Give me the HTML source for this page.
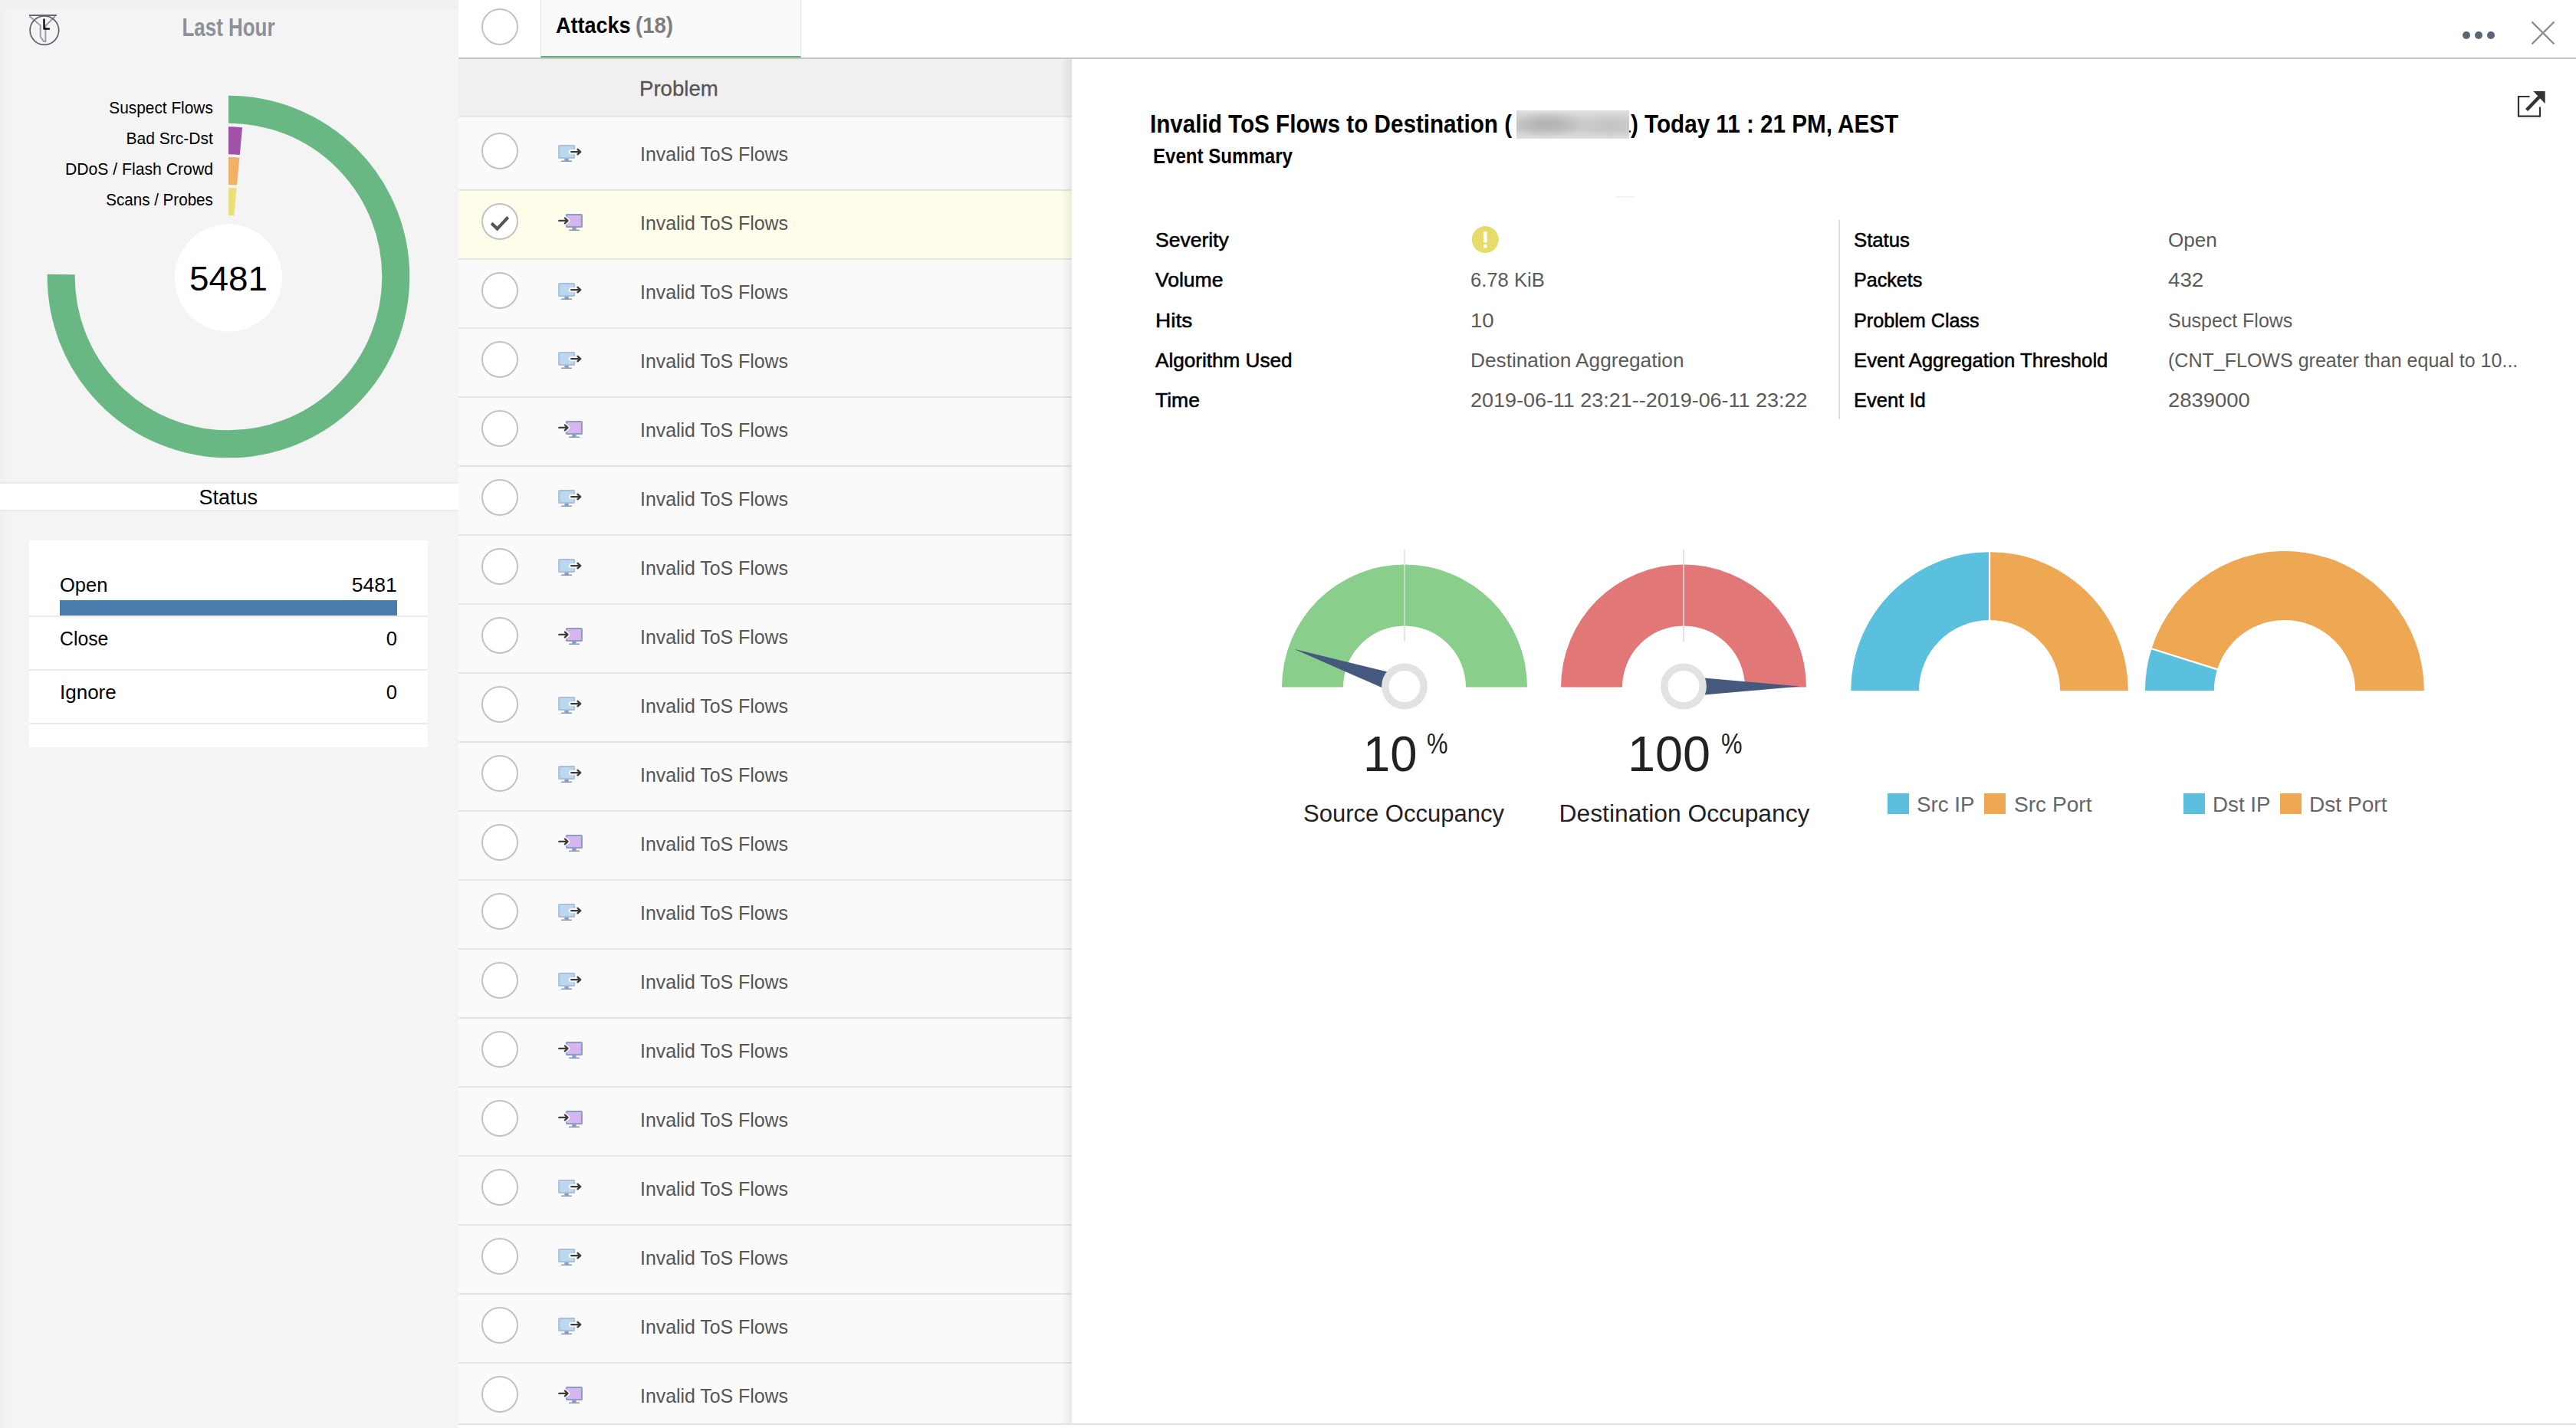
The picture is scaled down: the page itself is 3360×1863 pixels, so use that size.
<!DOCTYPE html>
<html><head><meta charset="utf-8"><title>Attacks</title>
<style>
html,body{margin:0;padding:0;}
body{width:3360px;height:1863px;position:relative;overflow:hidden;background:#fff;font-family:"Liberation Sans",sans-serif;}
.t{position:absolute;white-space:nowrap;line-height:1;}
.abs{position:absolute;}
.sb{-webkit-text-stroke:0.55px #000;}
.row{position:absolute;left:598px;width:800px;height:88px;background:#fafafa;border-bottom:2px solid #e6e6e6;}
.ck{position:absolute;left:628px;width:44px;height:44px;border:2px solid #c2c2c2;border-radius:50%;background:#fff;}
</style></head><body>


<div class="abs" style="left:0;top:0;width:598px;height:1863px;background:#f4f4f4;"></div>
<div class="abs" style="left:0;top:0;width:598px;height:13px;background:#f1f1f1;"></div>
<div class="abs" style="left:0;top:13px;width:12px;height:1850px;background:linear-gradient(to right,#f0f0f0,#f4f4f4);"></div>
<svg class="abs" style="left:30px;top:10px" width="60" height="60" viewBox="30 10 60 60">
<path d="M38.6 21.2 L52.7 33.1 V47.8 L56.9 54.1 H59.4 V33.5 L72 21.2" fill="none" stroke="#979ca6" stroke-width="1.9" stroke-linejoin="miter"/>
<rect x="38" y="19" width="36" height="1.9" fill="#596070"/>
<circle cx="57.9" cy="39.6" r="18.8" fill="none" stroke="#5a6272" stroke-width="1.7"/>
<path d="M57.5 24.6 V37.7 H64.9" fill="none" stroke="#000" stroke-width="2.3" stroke-linecap="butt" stroke-linejoin="round"/>
</svg>
<span class="t" id="t1" style="font-size:32.5px;color:#8c9198;top:20.09px;font-weight:bold;left:298.30px;transform:translateX(-50%) scaleX(0.7977);">Last Hour</span>
<svg class="abs" style="left:0;top:100px" width="598" height="520" viewBox="0 100 598 520">
<path d="M298.00 142.70 A218.3 218.3 0 1 1 79.72 357.95" fill="none" stroke="#69b884" stroke-width="36"/>
<path d="M298.00 183.30 A177.7 177.7 0 0 1 314.41 184.06" fill="none" stroke="#a052a6" stroke-width="36"/>
<path d="M298.00 223.00 A138 138 0 0 1 310.75 223.59" fill="none" stroke="#f0b067" stroke-width="36"/>
<path d="M298.00 263.00 A98 98 0 0 1 307.05 263.42" fill="none" stroke="#e8e078" stroke-width="36"/>
<circle cx="298" cy="362.5" r="70" fill="#fff"/>
</svg>
<span class="t" id="t2" style="font-size:21.5px;color:#000;top:130.80px;right:3082.30px;transform-origin:100% 50%;transform:scaleX(0.9692);">Suspect Flows</span>
<span class="t" id="t3" style="font-size:21.5px;color:#000;top:170.80px;right:3082.30px;transform-origin:100% 50%;transform:scaleX(0.9794);">Bad Src-Dst</span>
<span class="t" id="t4" style="font-size:21.5px;color:#000;top:210.80px;right:3082.30px;transform-origin:100% 50%;transform:scaleX(0.9849);">DDoS / Flash Crowd</span>
<span class="t" id="t5" style="font-size:21.5px;color:#000;top:250.80px;right:3082.30px;transform-origin:100% 50%;transform:scaleX(0.9568);">Scans / Probes</span>
<span class="t" id="t6" style="font-size:45px;color:#000;top:340.71px;left:298.00px;transform:translateX(-50%) scaleX(1.0189);">5481</span>
<div class="abs" style="left:0;top:631px;width:598px;height:34px;background:#fff;box-shadow:0 0 4px rgba(0,0,0,0.10);"></div>
<span class="t" id="t7" style="font-size:27px;color:#000;top:635.94px;left:297.70px;transform:translateX(-50%);">Status</span>
<div class="abs" style="left:38px;top:705px;width:520px;height:270px;background:#fff;"></div>
<div class="abs" style="left:38px;top:803.0px;width:520px;height:2px;background:#ebebeb;"></div>
<div class="abs" style="left:38px;top:872.7px;width:520px;height:2px;background:#ebebeb;"></div>
<div class="abs" style="left:38px;top:942.5px;width:520px;height:2px;background:#ebebeb;"></div>
<div class="abs" style="left:78px;top:783px;width:440px;height:20px;background:#4a7dae;"></div>
<span class="t" id="t8" style="font-size:25.5px;color:#000;top:750.71px;left:78.00px;">Open</span>
<span class="t" id="t9" style="font-size:25.5px;color:#000;top:750.71px;right:2842.00px;transform-origin:100% 50%;transform:scaleX(1.0399);">5481</span>
<span class="t" id="t10" style="font-size:25.5px;color:#000;top:820.81px;left:78.00px;transform-origin:0 50%;transform:scaleX(0.9708);">Close</span>
<span class="t" id="t11" style="font-size:25.5px;color:#000;top:820.81px;right:2842.00px;">0</span>
<span class="t" id="t12" style="font-size:25.5px;color:#000;top:890.81px;left:78.00px;transform-origin:0 50%;transform:scaleX(1.0192);">Ignore</span>
<span class="t" id="t13" style="font-size:25.5px;color:#000;top:890.81px;right:2842.00px;">0</span>
<div class="abs" style="left:598px;top:0;width:2762px;height:75px;background:#fff;border-bottom:2px solid #c6c6c6;"></div>
<div class="abs" style="left:705px;top:0;width:338px;height:73px;background:#fafafa;border-left:1px solid #e4e4e4;border-right:1px solid #e4e4e4;border-bottom:2px solid #5cb87a;"></div>
<div class="ck" style="top:10.8px;"></div>
<span class="t" id="t14" style="font-size:29px;color:#000;top:18.75px;font-weight:bold;left:725.30px;transform-origin:0 50%;transform:scaleX(0.9305);">Attacks</span>
<span class="t" id="t15" style="font-size:29px;color:#7d7d7d;top:18.75px;font-weight:bold;left:828.80px;transform-origin:0 50%;transform:scaleX(0.9500);">(18)</span>
<div class="abs" style="left:3212.1px;top:40.8px;width:10px;height:10px;border-radius:50%;background:#5b6478;"></div>
<div class="abs" style="left:3228.2px;top:40.8px;width:10px;height:10px;border-radius:50%;background:#5b6478;"></div>
<div class="abs" style="left:3244.4px;top:40.8px;width:10px;height:10px;border-radius:50%;background:#5b6478;"></div>
<svg class="abs" style="left:3296px;top:22px" width="42" height="42" viewBox="3296 22 42 42"><path d="M3302.5 28.5 L3331.5 57.5 M3331.5 28.5 L3302.5 57.5" stroke="#8a8c90" stroke-width="2.3" fill="none"/></svg>
<div class="abs" style="left:598px;top:77px;width:800px;height:76px;background:#f0f0f0;"></div>
<div class="abs" style="left:598px;top:151px;width:800px;height:1.5px;background:#e7e7e7;"></div>
<span class="t" id="t16" style="font-size:28px;color:#555;top:101.50px;left:834.00px;transform-origin:0 50%;transform:scaleX(0.9850);-webkit-text-stroke:0.3px #555;">Problem</span>
<div class="row" style="top:153px;height:94px;"></div>
<div class="ck" style="top:172.8px;"></div>
<svg class="abs" style="left:727px;top:187.9px;overflow:visible" width="36" height="26" viewBox="0 0 36 26"><rect x="2.1" y="2" width="20" height="16" rx="0.6" fill="#bcd8f0" stroke="#a9c0dc" stroke-width="2"/>
  <rect x="9.4" y="19" width="5.4" height="2.8" fill="#8a9aba"/>
  <rect x="5" y="21.5" width="14" height="1.6" rx="0.6" fill="#8494b6"/>
  <path d="M18 10.1 H27" fill="none" stroke="#f4f9fd" stroke-width="6.4" stroke-linecap="round"/>
  <path d="M26.5 6.85 L30.2 10.1 L26.5 13.35" fill="none" stroke="#fafafa" stroke-width="4.4" stroke-linecap="round" stroke-linejoin="round"/>
  <path d="M18.2 10.1 H29.8 M26.5 6.85 L30.15 10.1 L26.5 13.35" fill="none" stroke="#3c3c3c" stroke-width="2.4" stroke-linecap="round" stroke-linejoin="round"/></svg>
<span class="t" id="t17" style="font-size:26.5px;color:#555;top:188.47px;left:834.50px;transform-origin:0 50%;transform:scaleX(0.9382);">Invalid ToS Flows</span>
<div class="row" style="top:249px;background:#fdfde9;"></div>
<div class="ck" style="top:264.7px;"></div>
<svg class="abs" style="left:629.7px;top:265.7px" width="46" height="46" viewBox="0 0 46 46"><path d="M11.2 25.3 L18.6 32.6 L32.6 17.4" fill="none" stroke="#555" stroke-width="4.2"/></svg>
<svg class="abs" style="left:727px;top:277.9px;overflow:visible" width="36" height="26" viewBox="0 0 36 26"><rect x="11.9" y="2" width="20" height="16" rx="0.6" fill="#d5b6ef" stroke="#8f9cc2" stroke-width="2"/>
  <rect x="19.3" y="19" width="5.2" height="2.8" fill="#8a9aba"/>
  <rect x="15" y="21.5" width="14" height="1.6" rx="0.6" fill="#8494b6"/>
  <path d="M2 9.9 H11 M9.9 6.5 L13.4 9.9 L9.9 13.3" fill="none" stroke="#fbfafd" stroke-width="5.6" stroke-linecap="round" stroke-linejoin="round"/>
  <path d="M2.4 9.9 H13.2 M9.9 6.5 L13.45 9.9 L9.9 13.3" fill="none" stroke="#3c3c3c" stroke-width="2.4" stroke-linecap="round" stroke-linejoin="round"/></svg>
<span class="t" id="t18" style="font-size:26.5px;color:#555;top:278.47px;left:834.50px;transform-origin:0 50%;transform:scaleX(0.9382);">Invalid ToS Flows</span>
<div class="row" style="top:339px;"></div>
<div class="ck" style="top:354.7px;"></div>
<svg class="abs" style="left:727px;top:367.9px;overflow:visible" width="36" height="26" viewBox="0 0 36 26"><rect x="2.1" y="2" width="20" height="16" rx="0.6" fill="#bcd8f0" stroke="#a9c0dc" stroke-width="2"/>
  <rect x="9.4" y="19" width="5.4" height="2.8" fill="#8a9aba"/>
  <rect x="5" y="21.5" width="14" height="1.6" rx="0.6" fill="#8494b6"/>
  <path d="M18 10.1 H27" fill="none" stroke="#f4f9fd" stroke-width="6.4" stroke-linecap="round"/>
  <path d="M26.5 6.85 L30.2 10.1 L26.5 13.35" fill="none" stroke="#fafafa" stroke-width="4.4" stroke-linecap="round" stroke-linejoin="round"/>
  <path d="M18.2 10.1 H29.8 M26.5 6.85 L30.15 10.1 L26.5 13.35" fill="none" stroke="#3c3c3c" stroke-width="2.4" stroke-linecap="round" stroke-linejoin="round"/></svg>
<span class="t" id="t19" style="font-size:26.5px;color:#555;top:368.47px;left:834.50px;transform-origin:0 50%;transform:scaleX(0.9382);">Invalid ToS Flows</span>
<div class="row" style="top:429px;"></div>
<div class="ck" style="top:444.7px;"></div>
<svg class="abs" style="left:727px;top:457.9px;overflow:visible" width="36" height="26" viewBox="0 0 36 26"><rect x="2.1" y="2" width="20" height="16" rx="0.6" fill="#bcd8f0" stroke="#a9c0dc" stroke-width="2"/>
  <rect x="9.4" y="19" width="5.4" height="2.8" fill="#8a9aba"/>
  <rect x="5" y="21.5" width="14" height="1.6" rx="0.6" fill="#8494b6"/>
  <path d="M18 10.1 H27" fill="none" stroke="#f4f9fd" stroke-width="6.4" stroke-linecap="round"/>
  <path d="M26.5 6.85 L30.2 10.1 L26.5 13.35" fill="none" stroke="#fafafa" stroke-width="4.4" stroke-linecap="round" stroke-linejoin="round"/>
  <path d="M18.2 10.1 H29.8 M26.5 6.85 L30.15 10.1 L26.5 13.35" fill="none" stroke="#3c3c3c" stroke-width="2.4" stroke-linecap="round" stroke-linejoin="round"/></svg>
<span class="t" id="t20" style="font-size:26.5px;color:#555;top:458.47px;left:834.50px;transform-origin:0 50%;transform:scaleX(0.9382);">Invalid ToS Flows</span>
<div class="row" style="top:519px;"></div>
<div class="ck" style="top:534.7px;"></div>
<svg class="abs" style="left:727px;top:547.9px;overflow:visible" width="36" height="26" viewBox="0 0 36 26"><rect x="11.9" y="2" width="20" height="16" rx="0.6" fill="#d5b6ef" stroke="#8f9cc2" stroke-width="2"/>
  <rect x="19.3" y="19" width="5.2" height="2.8" fill="#8a9aba"/>
  <rect x="15" y="21.5" width="14" height="1.6" rx="0.6" fill="#8494b6"/>
  <path d="M2 9.9 H11 M9.9 6.5 L13.4 9.9 L9.9 13.3" fill="none" stroke="#fbfafd" stroke-width="5.6" stroke-linecap="round" stroke-linejoin="round"/>
  <path d="M2.4 9.9 H13.2 M9.9 6.5 L13.45 9.9 L9.9 13.3" fill="none" stroke="#3c3c3c" stroke-width="2.4" stroke-linecap="round" stroke-linejoin="round"/></svg>
<span class="t" id="t21" style="font-size:26.5px;color:#555;top:548.47px;left:834.50px;transform-origin:0 50%;transform:scaleX(0.9382);">Invalid ToS Flows</span>
<div class="row" style="top:609px;"></div>
<div class="ck" style="top:624.7px;"></div>
<svg class="abs" style="left:727px;top:637.9px;overflow:visible" width="36" height="26" viewBox="0 0 36 26"><rect x="2.1" y="2" width="20" height="16" rx="0.6" fill="#bcd8f0" stroke="#a9c0dc" stroke-width="2"/>
  <rect x="9.4" y="19" width="5.4" height="2.8" fill="#8a9aba"/>
  <rect x="5" y="21.5" width="14" height="1.6" rx="0.6" fill="#8494b6"/>
  <path d="M18 10.1 H27" fill="none" stroke="#f4f9fd" stroke-width="6.4" stroke-linecap="round"/>
  <path d="M26.5 6.85 L30.2 10.1 L26.5 13.35" fill="none" stroke="#fafafa" stroke-width="4.4" stroke-linecap="round" stroke-linejoin="round"/>
  <path d="M18.2 10.1 H29.8 M26.5 6.85 L30.15 10.1 L26.5 13.35" fill="none" stroke="#3c3c3c" stroke-width="2.4" stroke-linecap="round" stroke-linejoin="round"/></svg>
<span class="t" id="t22" style="font-size:26.5px;color:#555;top:638.47px;left:834.50px;transform-origin:0 50%;transform:scaleX(0.9382);">Invalid ToS Flows</span>
<div class="row" style="top:699px;"></div>
<div class="ck" style="top:714.7px;"></div>
<svg class="abs" style="left:727px;top:727.9px;overflow:visible" width="36" height="26" viewBox="0 0 36 26"><rect x="2.1" y="2" width="20" height="16" rx="0.6" fill="#bcd8f0" stroke="#a9c0dc" stroke-width="2"/>
  <rect x="9.4" y="19" width="5.4" height="2.8" fill="#8a9aba"/>
  <rect x="5" y="21.5" width="14" height="1.6" rx="0.6" fill="#8494b6"/>
  <path d="M18 10.1 H27" fill="none" stroke="#f4f9fd" stroke-width="6.4" stroke-linecap="round"/>
  <path d="M26.5 6.85 L30.2 10.1 L26.5 13.35" fill="none" stroke="#fafafa" stroke-width="4.4" stroke-linecap="round" stroke-linejoin="round"/>
  <path d="M18.2 10.1 H29.8 M26.5 6.85 L30.15 10.1 L26.5 13.35" fill="none" stroke="#3c3c3c" stroke-width="2.4" stroke-linecap="round" stroke-linejoin="round"/></svg>
<span class="t" id="t23" style="font-size:26.5px;color:#555;top:728.47px;left:834.50px;transform-origin:0 50%;transform:scaleX(0.9382);">Invalid ToS Flows</span>
<div class="row" style="top:789px;"></div>
<div class="ck" style="top:804.7px;"></div>
<svg class="abs" style="left:727px;top:817.9px;overflow:visible" width="36" height="26" viewBox="0 0 36 26"><rect x="11.9" y="2" width="20" height="16" rx="0.6" fill="#d5b6ef" stroke="#8f9cc2" stroke-width="2"/>
  <rect x="19.3" y="19" width="5.2" height="2.8" fill="#8a9aba"/>
  <rect x="15" y="21.5" width="14" height="1.6" rx="0.6" fill="#8494b6"/>
  <path d="M2 9.9 H11 M9.9 6.5 L13.4 9.9 L9.9 13.3" fill="none" stroke="#fbfafd" stroke-width="5.6" stroke-linecap="round" stroke-linejoin="round"/>
  <path d="M2.4 9.9 H13.2 M9.9 6.5 L13.45 9.9 L9.9 13.3" fill="none" stroke="#3c3c3c" stroke-width="2.4" stroke-linecap="round" stroke-linejoin="round"/></svg>
<span class="t" id="t24" style="font-size:26.5px;color:#555;top:818.47px;left:834.50px;transform-origin:0 50%;transform:scaleX(0.9382);">Invalid ToS Flows</span>
<div class="row" style="top:879px;"></div>
<div class="ck" style="top:894.7px;"></div>
<svg class="abs" style="left:727px;top:907.9px;overflow:visible" width="36" height="26" viewBox="0 0 36 26"><rect x="2.1" y="2" width="20" height="16" rx="0.6" fill="#bcd8f0" stroke="#a9c0dc" stroke-width="2"/>
  <rect x="9.4" y="19" width="5.4" height="2.8" fill="#8a9aba"/>
  <rect x="5" y="21.5" width="14" height="1.6" rx="0.6" fill="#8494b6"/>
  <path d="M18 10.1 H27" fill="none" stroke="#f4f9fd" stroke-width="6.4" stroke-linecap="round"/>
  <path d="M26.5 6.85 L30.2 10.1 L26.5 13.35" fill="none" stroke="#fafafa" stroke-width="4.4" stroke-linecap="round" stroke-linejoin="round"/>
  <path d="M18.2 10.1 H29.8 M26.5 6.85 L30.15 10.1 L26.5 13.35" fill="none" stroke="#3c3c3c" stroke-width="2.4" stroke-linecap="round" stroke-linejoin="round"/></svg>
<span class="t" id="t25" style="font-size:26.5px;color:#555;top:908.47px;left:834.50px;transform-origin:0 50%;transform:scaleX(0.9382);">Invalid ToS Flows</span>
<div class="row" style="top:969px;"></div>
<div class="ck" style="top:984.7px;"></div>
<svg class="abs" style="left:727px;top:997.9px;overflow:visible" width="36" height="26" viewBox="0 0 36 26"><rect x="2.1" y="2" width="20" height="16" rx="0.6" fill="#bcd8f0" stroke="#a9c0dc" stroke-width="2"/>
  <rect x="9.4" y="19" width="5.4" height="2.8" fill="#8a9aba"/>
  <rect x="5" y="21.5" width="14" height="1.6" rx="0.6" fill="#8494b6"/>
  <path d="M18 10.1 H27" fill="none" stroke="#f4f9fd" stroke-width="6.4" stroke-linecap="round"/>
  <path d="M26.5 6.85 L30.2 10.1 L26.5 13.35" fill="none" stroke="#fafafa" stroke-width="4.4" stroke-linecap="round" stroke-linejoin="round"/>
  <path d="M18.2 10.1 H29.8 M26.5 6.85 L30.15 10.1 L26.5 13.35" fill="none" stroke="#3c3c3c" stroke-width="2.4" stroke-linecap="round" stroke-linejoin="round"/></svg>
<span class="t" id="t26" style="font-size:26.5px;color:#555;top:998.47px;left:834.50px;transform-origin:0 50%;transform:scaleX(0.9382);">Invalid ToS Flows</span>
<div class="row" style="top:1059px;"></div>
<div class="ck" style="top:1074.7px;"></div>
<svg class="abs" style="left:727px;top:1087.9px;overflow:visible" width="36" height="26" viewBox="0 0 36 26"><rect x="11.9" y="2" width="20" height="16" rx="0.6" fill="#d5b6ef" stroke="#8f9cc2" stroke-width="2"/>
  <rect x="19.3" y="19" width="5.2" height="2.8" fill="#8a9aba"/>
  <rect x="15" y="21.5" width="14" height="1.6" rx="0.6" fill="#8494b6"/>
  <path d="M2 9.9 H11 M9.9 6.5 L13.4 9.9 L9.9 13.3" fill="none" stroke="#fbfafd" stroke-width="5.6" stroke-linecap="round" stroke-linejoin="round"/>
  <path d="M2.4 9.9 H13.2 M9.9 6.5 L13.45 9.9 L9.9 13.3" fill="none" stroke="#3c3c3c" stroke-width="2.4" stroke-linecap="round" stroke-linejoin="round"/></svg>
<span class="t" id="t27" style="font-size:26.5px;color:#555;top:1088.47px;left:834.50px;transform-origin:0 50%;transform:scaleX(0.9382);">Invalid ToS Flows</span>
<div class="row" style="top:1149px;"></div>
<div class="ck" style="top:1164.7px;"></div>
<svg class="abs" style="left:727px;top:1177.9px;overflow:visible" width="36" height="26" viewBox="0 0 36 26"><rect x="2.1" y="2" width="20" height="16" rx="0.6" fill="#bcd8f0" stroke="#a9c0dc" stroke-width="2"/>
  <rect x="9.4" y="19" width="5.4" height="2.8" fill="#8a9aba"/>
  <rect x="5" y="21.5" width="14" height="1.6" rx="0.6" fill="#8494b6"/>
  <path d="M18 10.1 H27" fill="none" stroke="#f4f9fd" stroke-width="6.4" stroke-linecap="round"/>
  <path d="M26.5 6.85 L30.2 10.1 L26.5 13.35" fill="none" stroke="#fafafa" stroke-width="4.4" stroke-linecap="round" stroke-linejoin="round"/>
  <path d="M18.2 10.1 H29.8 M26.5 6.85 L30.15 10.1 L26.5 13.35" fill="none" stroke="#3c3c3c" stroke-width="2.4" stroke-linecap="round" stroke-linejoin="round"/></svg>
<span class="t" id="t28" style="font-size:26.5px;color:#555;top:1178.47px;left:834.50px;transform-origin:0 50%;transform:scaleX(0.9382);">Invalid ToS Flows</span>
<div class="row" style="top:1239px;"></div>
<div class="ck" style="top:1254.7px;"></div>
<svg class="abs" style="left:727px;top:1267.9px;overflow:visible" width="36" height="26" viewBox="0 0 36 26"><rect x="2.1" y="2" width="20" height="16" rx="0.6" fill="#bcd8f0" stroke="#a9c0dc" stroke-width="2"/>
  <rect x="9.4" y="19" width="5.4" height="2.8" fill="#8a9aba"/>
  <rect x="5" y="21.5" width="14" height="1.6" rx="0.6" fill="#8494b6"/>
  <path d="M18 10.1 H27" fill="none" stroke="#f4f9fd" stroke-width="6.4" stroke-linecap="round"/>
  <path d="M26.5 6.85 L30.2 10.1 L26.5 13.35" fill="none" stroke="#fafafa" stroke-width="4.4" stroke-linecap="round" stroke-linejoin="round"/>
  <path d="M18.2 10.1 H29.8 M26.5 6.85 L30.15 10.1 L26.5 13.35" fill="none" stroke="#3c3c3c" stroke-width="2.4" stroke-linecap="round" stroke-linejoin="round"/></svg>
<span class="t" id="t29" style="font-size:26.5px;color:#555;top:1268.47px;left:834.50px;transform-origin:0 50%;transform:scaleX(0.9382);">Invalid ToS Flows</span>
<div class="row" style="top:1329px;"></div>
<div class="ck" style="top:1344.7px;"></div>
<svg class="abs" style="left:727px;top:1357.9px;overflow:visible" width="36" height="26" viewBox="0 0 36 26"><rect x="11.9" y="2" width="20" height="16" rx="0.6" fill="#d5b6ef" stroke="#8f9cc2" stroke-width="2"/>
  <rect x="19.3" y="19" width="5.2" height="2.8" fill="#8a9aba"/>
  <rect x="15" y="21.5" width="14" height="1.6" rx="0.6" fill="#8494b6"/>
  <path d="M2 9.9 H11 M9.9 6.5 L13.4 9.9 L9.9 13.3" fill="none" stroke="#fbfafd" stroke-width="5.6" stroke-linecap="round" stroke-linejoin="round"/>
  <path d="M2.4 9.9 H13.2 M9.9 6.5 L13.45 9.9 L9.9 13.3" fill="none" stroke="#3c3c3c" stroke-width="2.4" stroke-linecap="round" stroke-linejoin="round"/></svg>
<span class="t" id="t30" style="font-size:26.5px;color:#555;top:1358.47px;left:834.50px;transform-origin:0 50%;transform:scaleX(0.9382);">Invalid ToS Flows</span>
<div class="row" style="top:1419px;"></div>
<div class="ck" style="top:1434.7px;"></div>
<svg class="abs" style="left:727px;top:1447.9px;overflow:visible" width="36" height="26" viewBox="0 0 36 26"><rect x="11.9" y="2" width="20" height="16" rx="0.6" fill="#d5b6ef" stroke="#8f9cc2" stroke-width="2"/>
  <rect x="19.3" y="19" width="5.2" height="2.8" fill="#8a9aba"/>
  <rect x="15" y="21.5" width="14" height="1.6" rx="0.6" fill="#8494b6"/>
  <path d="M2 9.9 H11 M9.9 6.5 L13.4 9.9 L9.9 13.3" fill="none" stroke="#fbfafd" stroke-width="5.6" stroke-linecap="round" stroke-linejoin="round"/>
  <path d="M2.4 9.9 H13.2 M9.9 6.5 L13.45 9.9 L9.9 13.3" fill="none" stroke="#3c3c3c" stroke-width="2.4" stroke-linecap="round" stroke-linejoin="round"/></svg>
<span class="t" id="t31" style="font-size:26.5px;color:#555;top:1448.47px;left:834.50px;transform-origin:0 50%;transform:scaleX(0.9382);">Invalid ToS Flows</span>
<div class="row" style="top:1509px;"></div>
<div class="ck" style="top:1524.7px;"></div>
<svg class="abs" style="left:727px;top:1537.9px;overflow:visible" width="36" height="26" viewBox="0 0 36 26"><rect x="2.1" y="2" width="20" height="16" rx="0.6" fill="#bcd8f0" stroke="#a9c0dc" stroke-width="2"/>
  <rect x="9.4" y="19" width="5.4" height="2.8" fill="#8a9aba"/>
  <rect x="5" y="21.5" width="14" height="1.6" rx="0.6" fill="#8494b6"/>
  <path d="M18 10.1 H27" fill="none" stroke="#f4f9fd" stroke-width="6.4" stroke-linecap="round"/>
  <path d="M26.5 6.85 L30.2 10.1 L26.5 13.35" fill="none" stroke="#fafafa" stroke-width="4.4" stroke-linecap="round" stroke-linejoin="round"/>
  <path d="M18.2 10.1 H29.8 M26.5 6.85 L30.15 10.1 L26.5 13.35" fill="none" stroke="#3c3c3c" stroke-width="2.4" stroke-linecap="round" stroke-linejoin="round"/></svg>
<span class="t" id="t32" style="font-size:26.5px;color:#555;top:1538.47px;left:834.50px;transform-origin:0 50%;transform:scaleX(0.9382);">Invalid ToS Flows</span>
<div class="row" style="top:1599px;"></div>
<div class="ck" style="top:1614.7px;"></div>
<svg class="abs" style="left:727px;top:1627.9px;overflow:visible" width="36" height="26" viewBox="0 0 36 26"><rect x="2.1" y="2" width="20" height="16" rx="0.6" fill="#bcd8f0" stroke="#a9c0dc" stroke-width="2"/>
  <rect x="9.4" y="19" width="5.4" height="2.8" fill="#8a9aba"/>
  <rect x="5" y="21.5" width="14" height="1.6" rx="0.6" fill="#8494b6"/>
  <path d="M18 10.1 H27" fill="none" stroke="#f4f9fd" stroke-width="6.4" stroke-linecap="round"/>
  <path d="M26.5 6.85 L30.2 10.1 L26.5 13.35" fill="none" stroke="#fafafa" stroke-width="4.4" stroke-linecap="round" stroke-linejoin="round"/>
  <path d="M18.2 10.1 H29.8 M26.5 6.85 L30.15 10.1 L26.5 13.35" fill="none" stroke="#3c3c3c" stroke-width="2.4" stroke-linecap="round" stroke-linejoin="round"/></svg>
<span class="t" id="t33" style="font-size:26.5px;color:#555;top:1628.47px;left:834.50px;transform-origin:0 50%;transform:scaleX(0.9382);">Invalid ToS Flows</span>
<div class="row" style="top:1689px;"></div>
<div class="ck" style="top:1704.7px;"></div>
<svg class="abs" style="left:727px;top:1717.9px;overflow:visible" width="36" height="26" viewBox="0 0 36 26"><rect x="2.1" y="2" width="20" height="16" rx="0.6" fill="#bcd8f0" stroke="#a9c0dc" stroke-width="2"/>
  <rect x="9.4" y="19" width="5.4" height="2.8" fill="#8a9aba"/>
  <rect x="5" y="21.5" width="14" height="1.6" rx="0.6" fill="#8494b6"/>
  <path d="M18 10.1 H27" fill="none" stroke="#f4f9fd" stroke-width="6.4" stroke-linecap="round"/>
  <path d="M26.5 6.85 L30.2 10.1 L26.5 13.35" fill="none" stroke="#fafafa" stroke-width="4.4" stroke-linecap="round" stroke-linejoin="round"/>
  <path d="M18.2 10.1 H29.8 M26.5 6.85 L30.15 10.1 L26.5 13.35" fill="none" stroke="#3c3c3c" stroke-width="2.4" stroke-linecap="round" stroke-linejoin="round"/></svg>
<span class="t" id="t34" style="font-size:26.5px;color:#555;top:1718.47px;left:834.50px;transform-origin:0 50%;transform:scaleX(0.9382);">Invalid ToS Flows</span>
<div class="row" style="top:1779px;height:78px;border-bottom:none;"></div>
<div class="ck" style="top:1794.7px;"></div>
<svg class="abs" style="left:727px;top:1807.9px;overflow:visible" width="36" height="26" viewBox="0 0 36 26"><rect x="11.9" y="2" width="20" height="16" rx="0.6" fill="#d5b6ef" stroke="#8f9cc2" stroke-width="2"/>
  <rect x="19.3" y="19" width="5.2" height="2.8" fill="#8a9aba"/>
  <rect x="15" y="21.5" width="14" height="1.6" rx="0.6" fill="#8494b6"/>
  <path d="M2 9.9 H11 M9.9 6.5 L13.4 9.9 L9.9 13.3" fill="none" stroke="#fbfafd" stroke-width="5.6" stroke-linecap="round" stroke-linejoin="round"/>
  <path d="M2.4 9.9 H13.2 M9.9 6.5 L13.45 9.9 L9.9 13.3" fill="none" stroke="#3c3c3c" stroke-width="2.4" stroke-linecap="round" stroke-linejoin="round"/></svg>
<span class="t" id="t35" style="font-size:26.5px;color:#555;top:1808.47px;left:834.50px;transform-origin:0 50%;transform:scaleX(0.9382);">Invalid ToS Flows</span>
<div class="abs" style="left:1384px;top:77px;width:14px;height:1780px;background:linear-gradient(to right,rgba(0,0,0,0),rgba(0,0,0,0.065));"></div>
<div class="abs" style="left:1398px;top:77px;width:1962px;height:1780px;background:#fff;"></div>
<div class="abs" style="left:598px;top:1857px;width:2762px;height:2px;background:#e2e2e2;"></div>
<div class="abs" style="left:598px;top:1859px;width:2762px;height:4px;background:#fff;"></div>
<span class="t" id="t36" style="font-size:33.5px;color:#000;top:145.14px;font-weight:bold;left:1499.50px;transform-origin:0 50%;transform:scaleX(0.8847);">Invalid ToS Flows to Destination (</span>
<div class="abs" style="left:1978px;top:144px;width:147px;height:37px;background:radial-gradient(ellipse 52px 17px at 40px 18px,#b2b2b2 0%,rgba(178,178,178,0.75) 35%,rgba(178,178,178,0) 100%),radial-gradient(ellipse 40px 16px at 122px 20px,rgba(196,196,196,1) 0%,rgba(196,196,196,0) 100%),linear-gradient(to bottom,#e0e0e0 0%,#cecece 35%,#cccccc 65%,#dedede 100%);"></div>
<span class="t" id="t37" style="font-size:33.5px;color:#000;top:145.14px;font-weight:bold;left:2127.00px;transform-origin:0 50%;transform:scaleX(0.8843);">) Today 11 : 21 PM, AEST</span>
<div class="abs" style="left:2124.6px;top:170.2px;width:2.6px;height:3px;background:#222;border-radius:1px;"></div>
<span class="t" id="t38" style="font-size:27px;color:#000;top:191.04px;font-weight:bold;left:1503.60px;transform-origin:0 50%;transform:scaleX(0.8917);">Event Summary</span>
<svg class="abs" style="left:3278px;top:112px" width="50" height="48" viewBox="3278 112 50 48">
<path d="M3299.5 126 H3285 V151.7 H3313 V139.5" fill="none" stroke="#333" stroke-width="2.2"/>
<path d="M3295.6 143.6 L3312 126.5" stroke="#333" stroke-width="4.4" fill="none"/>
<path d="M3304.3 119 H3319.7 V135.2 Z" fill="#333"/>
</svg>
<div class="abs" style="left:2107px;top:256px;width:24px;height:1.5px;background:#f3f3f3;"></div>
<span class="t" id="t39" style="font-size:26.5px;color:#000;top:300.37px;left:1507.00px;-webkit-text-stroke:0.55px #000;">Severity</span>
<span class="t" id="t40" style="font-size:26.5px;color:#000;top:352.47px;left:1507.00px;-webkit-text-stroke:0.55px #000;">Volume</span>
<span class="t" id="t41" style="font-size:26.5px;color:#5a5a5a;top:352.47px;left:1918.00px;transform-origin:0 50%;transform:scaleX(0.9652);">6.78 KiB</span>
<span class="t" id="t42" style="font-size:26.5px;color:#000;top:404.57px;left:1507.00px;transform-origin:0 50%;transform:scaleX(1.0561);-webkit-text-stroke:0.55px #000;">Hits</span>
<span class="t" id="t43" style="font-size:26.5px;color:#5a5a5a;top:404.57px;left:1918.00px;transform-origin:0 50%;transform:scaleX(1.0412);">10</span>
<span class="t" id="t44" style="font-size:26.5px;color:#000;top:456.67px;left:1507.00px;transform-origin:0 50%;transform:scaleX(0.9859);-webkit-text-stroke:0.55px #000;">Algorithm Used</span>
<span class="t" id="t45" style="font-size:26.5px;color:#5a5a5a;top:456.67px;left:1918.00px;transform-origin:0 50%;transform:scaleX(0.9897);">Destination Aggregation</span>
<span class="t" id="t46" style="font-size:26.5px;color:#000;top:508.77px;left:1507.00px;-webkit-text-stroke:0.55px #000;">Time</span>
<span class="t" id="t47" style="font-size:26.5px;color:#5a5a5a;top:508.77px;left:1918.00px;transform-origin:0 50%;transform:scaleX(1.0169);">2019-06-11 23:21--2019-06-11 23:22</span>
<span class="t" id="t48" style="font-size:26.5px;color:#000;top:300.37px;left:2418.00px;transform-origin:0 50%;transform:scaleX(0.9689);-webkit-text-stroke:0.55px #000;">Status</span>
<span class="t" id="t49" style="font-size:26.5px;color:#5a5a5a;top:300.37px;left:2828.00px;transform-origin:0 50%;transform:scaleX(0.9857);">Open</span>
<span class="t" id="t50" style="font-size:26.5px;color:#000;top:352.47px;left:2418.00px;transform-origin:0 50%;transform:scaleX(0.9463);-webkit-text-stroke:0.55px #000;">Packets</span>
<span class="t" id="t51" style="font-size:26.5px;color:#5a5a5a;top:352.47px;left:2828.00px;transform-origin:0 50%;transform:scaleX(1.0471);">432</span>
<span class="t" id="t52" style="font-size:26.5px;color:#000;top:404.57px;left:2418.00px;transform-origin:0 50%;transform:scaleX(0.9500);-webkit-text-stroke:0.55px #000;">Problem Class</span>
<span class="t" id="t53" style="font-size:26.5px;color:#5a5a5a;top:404.57px;left:2828.00px;transform-origin:0 50%;transform:scaleX(0.9418);">Suspect Flows</span>
<span class="t" id="t54" style="font-size:26.5px;color:#000;top:456.67px;left:2418.00px;transform-origin:0 50%;transform:scaleX(0.9710);-webkit-text-stroke:0.55px #000;">Event Aggregation Threshold</span>
<span class="t" id="t55" style="font-size:26.5px;color:#5a5a5a;top:456.67px;left:2828.00px;transform-origin:0 50%;transform:scaleX(0.9445);">(CNT_FLOWS greater than equal to 10...</span>
<span class="t" id="t56" style="font-size:26.5px;color:#000;top:508.77px;left:2418.00px;transform-origin:0 50%;transform:scaleX(0.9637);-webkit-text-stroke:0.55px #000;">Event Id</span>
<span class="t" id="t57" style="font-size:26.5px;color:#5a5a5a;top:508.77px;left:2828.00px;transform-origin:0 50%;transform:scaleX(1.0342);">2839000</span>
<svg class="abs" style="left:1918px;top:294px" width="38" height="38" viewBox="1918 294 38 38">
<circle cx="1937.3" cy="312.6" r="17.5" fill="#e5dc6c"/>
<rect x="1935" y="302.2" width="4.6" height="14.2" rx="1" fill="#fff"/>
<rect x="1935" y="319" width="4.6" height="4.5" rx="0.8" fill="#fff"/>
</svg>
<div class="abs" style="left:2398px;top:287px;width:2px;height:260px;background:#e0e0e0;"></div>
<svg class="abs" style="left:1652px;top:700px" width="360" height="250" viewBox="1652 700 360 250"><path d="M1672 896.5 A160 160 0 0 1 1992 896.5 L1912 896.5 A80 80 0 0 0 1752 896.5 Z" fill="#8ace8b"/><rect x="1831.2" y="717" width="1.6" height="120" fill="#dcdcdc"/><path d="M1688.02 846.77 L1809.95 876.42 L1802.90 897.26 Z" fill="#45597f"/><circle cx="1832" cy="895.5" r="25.2" fill="#fff" stroke="#e2e2e2" stroke-width="9.4"/></svg>
<svg class="abs" style="left:2016px;top:700px" width="360" height="250" viewBox="2016 700 360 250"><path d="M2036 896.5 A160 160 0 0 1 2356 896.5 L2276 896.5 A80 80 0 0 0 2116 896.5 Z" fill="#e27777"/><rect x="2195.2" y="717" width="1.6" height="120" fill="#dcdcdc"/><path d="M2348.00 895.50 L2223.00 906.50 L2223.00 884.50 Z" fill="#45597f"/><circle cx="2196" cy="895.5" r="25.2" fill="#fff" stroke="#e2e2e2" stroke-width="9.4"/></svg>
<span class="t" id="t58" style="font-size:64px;color:#222;top:952.32px;left:1778.00px;transform-origin:0 50%;transform:scaleX(0.9903);">10</span>
<span class="t" id="t59" style="font-size:36px;color:#222;top:952.73px;left:1861.00px;transform-origin:0 50%;transform:scaleX(0.8590);">%</span>
<span class="t" id="t60" style="font-size:64px;color:#222;top:952.32px;left:2122.50px;transform-origin:0 50%;transform:scaleX(1.0114);">100</span>
<span class="t" id="t61" style="font-size:36px;color:#222;top:952.73px;left:2244.50px;transform-origin:0 50%;transform:scaleX(0.8590);">%</span>
<span class="t" id="t62" style="font-size:31px;color:#222;top:1046.46px;left:1831.00px;transform:translateX(-50%);">Source Occupancy</span>
<span class="t" id="t63" style="font-size:31px;color:#222;top:1046.46px;left:2197.00px;transform:translateX(-50%) scaleX(1.0258);">Destination Occupancy</span>
<svg class="abs" style="left:2405px;top:710px" width="380" height="200" viewBox="2405 710 380 200"><path d="M2414.20 901.00 A180.85 180.85 0 0 1 2595.05 720.15 L2595.05 808.90 A92.1 92.1 0 0 0 2502.95 901.00 Z" fill="#5bc0de"/><path d="M2595.05 720.15 A180.85 180.85 0 0 1 2775.90 901.00 L2687.15 901.00 A92.1 92.1 0 0 0 2595.05 808.90 Z" fill="#eea753"/><path d="M2595.05 719.15 L2595.05 809.90" stroke="#fff" stroke-width="2.2"/></svg>
<svg class="abs" style="left:2789px;top:710px" width="380" height="200" viewBox="2789 710 380 200"><path d="M2798.00 901.00 A181.95 181.95 0 0 1 2806.42 846.29 L2892.11 873.30 A92.1 92.1 0 0 0 2887.85 901.00 Z" fill="#5bc0de"/><path d="M2806.42 846.29 A181.95 181.95 0 0 1 3161.90 901.00 L3072.05 901.00 A92.1 92.1 0 0 0 2892.11 873.30 Z" fill="#eea753"/><path d="M2805.47 845.99 L2893.07 873.61" stroke="#fff" stroke-width="2.2"/></svg>
<div class="abs" style="left:2462.1px;top:1034.7px;width:27.8px;height:27.8px;background:#5bc0de;"></div><span class="t" id="t64" style="font-size:27.5px;color:#666;top:1035.92px;left:2500.00px;transform-origin:0 50%;transform:scaleX(1.0083);">Src IP</span><div class="abs" style="left:2587.9px;top:1034.7px;width:27.8px;height:27.8px;background:#eea753;"></div><span class="t" id="t65" style="font-size:27.5px;color:#666;top:1035.92px;left:2626.50px;transform-origin:0 50%;transform:scaleX(1.0219);">Src Port</span>
<div class="abs" style="left:2847.9px;top:1034.7px;width:27.8px;height:27.8px;background:#5bc0de;"></div><span class="t" id="t66" style="font-size:27.5px;color:#666;top:1035.92px;left:2885.80px;transform-origin:0 50%;transform:scaleX(1.0083);">Dst IP</span><div class="abs" style="left:2974.0px;top:1034.7px;width:27.8px;height:27.8px;background:#eea753;"></div><span class="t" id="t67" style="font-size:27.5px;color:#666;top:1035.92px;left:3012.00px;transform-origin:0 50%;transform:scaleX(1.0219);">Dst Port</span>
</body></html>
